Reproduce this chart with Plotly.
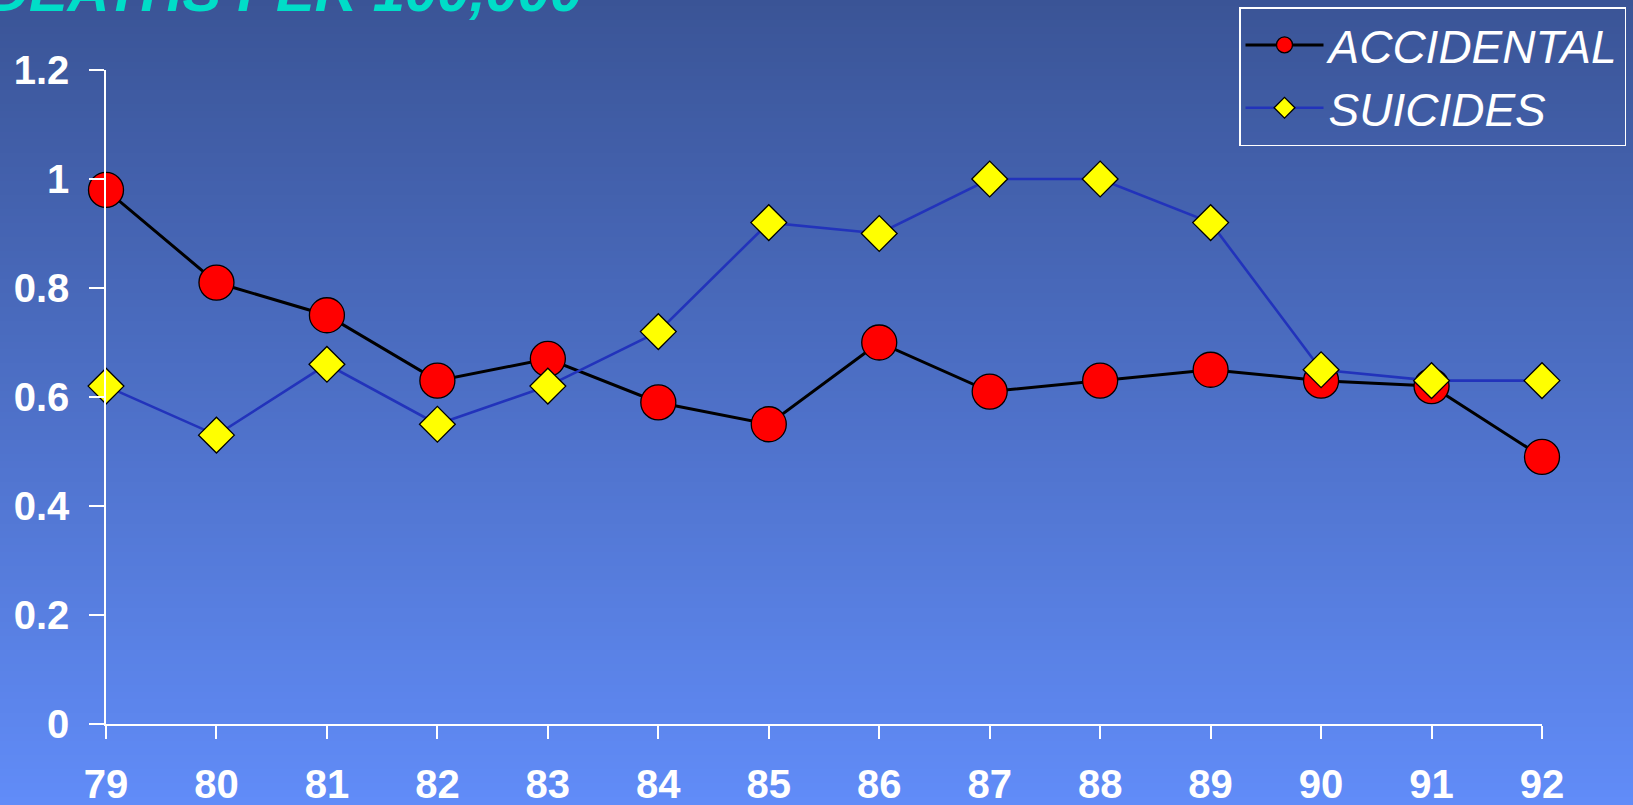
import plotly.graph_objects as go

# Years (two-digit) and death rates per 100,000
years = [79, 80, 81, 82, 83, 84, 85, 86, 87, 88, 89, 90, 91, 92]
accidental = [0.98, 0.81, 0.75, 0.63, 0.67, 0.59, 0.55, 0.70, 0.61, 0.63, 0.65, 0.63, 0.62, 0.49]
suicides = [0.62, 0.53, 0.66, 0.55, 0.62, 0.72, 0.92, 0.90, 1.00, 1.00, 0.92, 0.65, 0.63, 0.63]
y_ticks = [0, 0.2, 0.4, 0.6, 0.8, 1.0, 1.2]
y_tick_text = ["0", "0.2", "0.4", "0.6", "0.8", "1", "1.2"]

W, H = 1633, 805
L, R, T, B = 106, 91, 70, 81
plot_w = W - L - R
plot_h = H - T - B


def px_to_paper_x(px):
    return (px - L) / plot_w


def px_to_paper_y(py):
    return (H - B - py) / plot_h


fig = go.Figure()

fig.add_trace(go.Scatter(
    x=years, y=accidental, name="ACCIDENTAL", mode="lines+markers",
    line=dict(color="black", width=3),
    marker=dict(symbol="circle", size=35, color="#ff0000",
                line=dict(color="black", width=1.3)),
    cliponaxis=False,
))
fig.add_trace(go.Scatter(
    x=years, y=suicides, name="SUICIDES", mode="lines+markers",
    line=dict(color="#2233bb", width=2.6),
    marker=dict(symbol="diamond", size=27.5, color="#ffff00",
                line=dict(color="black", width=1.3)),
    cliponaxis=False,
))

# Vertical background gradient, drawn as thin bands across the whole page
top_rgb = (58, 84, 150)
bot_rgb = (97, 140, 248)
n_bands = 115
shapes = []
for i in range(n_bands):
    t = (i + 0.5) / n_bands
    col = tuple(round(a + (b - a) * t) for a, b in zip(top_rgb, bot_rgb))
    y_top = H * i / n_bands - 1
    y_bot = H * (i + 1) / n_bands + 1
    shapes.append(dict(
        type="rect", xref="paper", yref="paper", layer="below",
        x0=px_to_paper_x(-2), x1=px_to_paper_x(W + 2),
        y0=px_to_paper_y(y_bot), y1=px_to_paper_y(y_top),
        fillcolor="rgb(%d,%d,%d)" % col, line=dict(width=0),
    ))

font_family = "Arial, Liberation Sans, sans-serif"

fig.update_layout(
    width=W, height=H,
    margin=dict(l=L, r=R, t=T, b=B, pad=0, autoexpand=False),
    paper_bgcolor="rgb(78,112,199)",
    plot_bgcolor="rgba(0,0,0,0)",
    shapes=shapes,
    showlegend=True,
    legend=dict(
        x=px_to_paper_x(1239), y=px_to_paper_y(7),
        xanchor="left", yanchor="top",
        bgcolor="rgba(0,0,0,0)", bordercolor="white", borderwidth=1.5,
        font=dict(family=font_family, size=46, color="white", style="italic"),
        itemwidth=78, tracegroupgap=0,
    ),
    xaxis=dict(
        range=[79, 92], tickmode="array", tickvals=years,
        ticktext=[str(v) for v in years],
        showgrid=False, zeroline=False, automargin=False,
        showline=True, linecolor="white", linewidth=1.5,
        ticks="outside", ticklen=13, tickwidth=1.5, tickcolor="white",
        tickfont=dict(family=font_family, size=40, color="white", weight="bold"),
        ticklabelstandoff=11,
    ),
    yaxis=dict(
        range=[0, 1.2], tickmode="array", tickvals=y_ticks, ticktext=y_tick_text,
        showgrid=False, zeroline=False, automargin=False,
        showline=True, linecolor="white", linewidth=1.5,
        ticks="outside", ticklen=15, tickwidth=1.5, tickcolor="white",
        tickfont=dict(family=font_family, size=40, color="white", weight="bold"),
        ticklabelstandoff=12,
    ),
    annotations=[dict(
        text="DEATHS PER 100,000", showarrow=False,
        xref="paper", yref="paper",
        x=px_to_paper_x(-15), y=px_to_paper_y(25),
        xanchor="left", yanchor="bottom",
        font=dict(family=font_family, size=58, color="#00ddc8",
                  weight="bold", style="italic"),
    )],
)

fig.write_html("out.html")
